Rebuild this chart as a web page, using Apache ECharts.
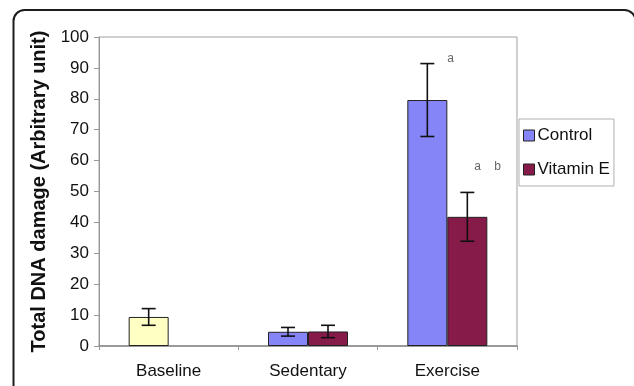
<!DOCTYPE html>
<html>
<head>
<meta charset="utf-8">
<script src="https://cdn.jsdelivr.net/npm/echarts@6/dist/echarts.min.js"></script>
<style>
html,body{margin:0;padding:0;background:#fff;}
#chart{width:634px;height:386px;}
</style>
</head>
<body>
<div id="chart"></div>
<script>
const categories = ['Baseline', 'Sedentary', 'Exercise'];
const controlValues = [9.4, 4.6, 79.6];
const controlErrors = [2.7, 1.4, 11.8];
const vitaminEValues = [null, 4.7, 41.8];
const vitaminEErrors = [null, 2.0, 7.9];
const yTicks = [0, 10, 20, 30, 40, 50, 60, 70, 80, 90, 100];
const annotationCategories = ['Exercise', 'Exercise'];
const annotationValues = [93, 58];
const annotationTexts = ['a', 'a    b'];

const FONT = '"Liberation Sans", Arial, sans-serif';
const BAR_W = 40;
const COLOR_CONTROL = '#8585f7';
const COLOR_VITE = '#861a48';
const COLOR_BASE = '#ffffc4';

const chart = echarts.init(document.getElementById('chart'), null, {renderer: 'canvas'});

const controlData = controlValues.map((v, i) => i === 0
  ? {value: v, itemStyle: {color: COLOR_BASE}}
  : v);

const errData = [];
controlValues.forEach((v, i) => { if (v != null) errData.push([i, v, controlErrors[i], 0]); });
vitaminEValues.forEach((v, i) => { if (v != null) errData.push([i, v, vitaminEErrors[i], 1]); });

const annOffsets = [0, 27];
const annData = annotationCategories.map((c, i) => [categories.indexOf(c), annotationValues[i], i]);

chart.setOption({
  animation: false,
  backgroundColor: '#fff',
  textStyle: {fontFamily: FONT},
  grid: {left: 99, right: 117, top: 37, bottom: 40, show: true, borderColor: '#a0a0a0', borderWidth: 1},
  legend: {
    orient: 'vertical', left: 519, top: 119,
    padding: [8, 4, 8, 4], itemGap: 17, itemWidth: 11, itemHeight: 11,
    borderColor: '#b0b0b0', borderWidth: 1, icon: 'rect',
    textStyle: {fontSize: 17, color: '#111', fontFamily: FONT, padding: [0, 0, 0, -2]},
    data: [
      {name: 'Control', itemStyle: {color: COLOR_CONTROL, borderColor: '#222', borderWidth: 1}},
      {name: 'Vitamin E', itemStyle: {color: COLOR_VITE, borderColor: '#222', borderWidth: 1}}
    ]
  },
  xAxis: {
    type: 'category', data: categories,
    axisLine: {lineStyle: {color: '#888', width: 1.5}},
    axisTick: {show: true, length: 4, lineStyle: {color: '#999'}},
    axisLabel: {fontSize: 17, color: '#111', margin: 17, fontFamily: FONT},
    splitLine: {show: false}
  },
  yAxis: {
    type: 'value', min: 0, max: 100, interval: 10,
    name: 'Total DNA damage (Arbitrary unit)', nameLocation: 'middle', nameGap: 42,
    nameTextStyle: {fontSize: 20, fontWeight: 'bold', color: '#111', fontFamily: FONT},
    axisLine: {show: true, lineStyle: {color: '#999'}},
    axisTick: {show: true, length: 5, lineStyle: {color: '#999'}},
    axisLabel: {fontSize: 17, color: '#111', margin: 10, fontFamily: FONT,
      formatter: v => yTicks.indexOf(v) >= 0 ? String(v) : ''},
    splitLine: {show: false}
  },
  graphic: [{
    type: 'rect', silent: true, z: 100,
    shape: {x: 13.5, y: 10, width: 622, height: 400, r: 11},
    style: {fill: 'none', stroke: '#1c1c1c', lineWidth: 2}
  }],
  series: [
    {
      name: 'Control', type: 'bar', data: controlData,
      barWidth: BAR_W, barGap: '0%',
      itemStyle: {color: COLOR_CONTROL, borderColor: '#222', borderWidth: 1}
    },
    {
      name: 'Vitamin E', type: 'bar', data: vitaminEValues,
      barWidth: BAR_W, barGap: '0%',
      itemStyle: {color: COLOR_VITE, borderColor: '#222', borderWidth: 1}
    },
    {
      name: 'err', type: 'custom', data: errData, z: 10,
      renderItem: function (params, api) {
        const ci = api.value(0), v = api.value(1), e = api.value(2), s = api.value(3);
        const off = (s === 0 ? -1 : 1) * BAR_W / 2;
        const hi = api.coord([ci, v + e]);
        const lo = api.coord([ci, v - e]);
        const x = hi[0] + off;
        const cap = 7;
        const st = {stroke: '#111', lineWidth: 1.6};
        return {type: 'group', children: [
          {type: 'line', shape: {x1: x, y1: hi[1], x2: x, y2: lo[1]}, style: st},
          {type: 'line', shape: {x1: x - cap, y1: hi[1], x2: x + cap, y2: hi[1]}, style: st},
          {type: 'line', shape: {x1: x - cap, y1: lo[1], x2: x + cap, y2: lo[1]}, style: st}
        ]};
      }
    },
    {
      name: 'ann', type: 'custom', data: annData, z: 11,
      renderItem: function (params, api) {
        const idx = api.value(2);
        const p = api.coord([api.value(0), api.value(1)]);
        return {type: 'text', x: p[0] + annOffsets[idx], y: p[1],
          style: {text: annotationTexts[idx], fill: '#666', font: '12px ' + FONT,
            textAlign: 'left', textVerticalAlign: 'middle'}};
      }
    }
  ]
});
</script>
</body>
</html>
